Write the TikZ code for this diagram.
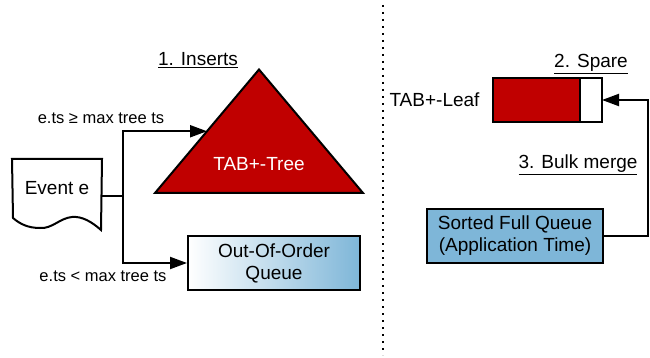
\documentclass[tikz,border=0pt]{standalone}
\usepackage{fontspec}
\setmainfont{Liberation Sans}
\usetikzlibrary{shapes.geometric, arrows.meta, positioning, calc}
\definecolor{tabred}{RGB}{192,0,0}
\definecolor{queueblue}{RGB}{126,182,216}

\begin{document}
\begin{tikzpicture}[
    x=1pt, y=-1pt,
    node distance=2pt and 10pt,
    >={Triangle[length=17pt,width=12pt]},
    font=\fontsize{19}{22}\selectfont,
    base/.style={align=center, line width=2pt, inner sep=2pt},
    docshape/.style={base, minimum width=88pt, minimum height=72pt, text height=14pt, text depth=18pt},
    tree/.style={base, isosceles triangle, isosceles triangle stretches, shape border rotate=90, draw=black, fill=tabred, text=white, minimum width=208pt, minimum height=120pt, inner sep=0pt, outer sep=0pt},
    queue/.style={base, rectangle, draw=black, minimum width=172pt, minimum height=54pt},
    leafpart/.style={base, rectangle, draw=black, minimum height=44pt, outer sep=0pt},
    steplabel/.style={font=\fontsize{19}{22}\selectfont, inner sep=1pt},
    cond/.style={font=\fontsize{16.5}{19}\selectfont},
    arrow/.style={->, line width=2pt}
  ]
    \useasboundingbox (0,0) rectangle (650,358);
    % left half: event split
    \node[docshape] (event) at (57,196) {Event e};
    \draw[line width=2pt] (event.north west) -- (event.north east) -- (101,230)
      .. controls (92,222) and (82,216) .. (72,217)
      .. controls (60,218) and (52,229) .. (40,228)
      .. controls (28,228) and (20,224) .. (13,218) -- cycle;
    \node[tree, anchor=lower side] (tree) at (259,193) {TAB+-Tree};
    \node[queue, left color=white, right color=queueblue] (ooq) at (274,263) {Out-Of-Order\\Queue};
    \node[steplabel] (insertlabel) at (198,60) {\underline{1. Inserts}};
    \node[cond] (geq) at (101,118) {e.ts ≥ max tree ts};
    \node[cond] (lt) at (103,276) {e.ts < max tree ts};
    \draw[arrow] (event.east) -- ++(21,0) |- (tree.left side);
    \draw[arrow] (event.east) -- ++(21,0) |- (ooq.west);
    % divider
    \draw[line width=2pt, dash pattern=on 2pt off 5pt] (383,5) -- (383,355);
    % right half: bulk merge
    \node[leafpart, fill=tabred, minimum width=87pt] (leaf) at (536.5,100) {};
    \node[leafpart, fill=white, minimum width=22pt, right=0pt of leaf] (spare) {};
    \node[left=10pt of leaf] (leaflabel) {TAB+-Leaf};
    \node[steplabel, above=3pt of spare] (sparelabel) {\underline{2. Spare}};
    \node[steplabel] (mergelabel) at (578,165) {\underline{3. Bulk merge}};
    \node[queue, fill=queueblue, minimum width=176pt] (sfq) at (515,236) {Sorted Full Queue\\(Application Time)};
    \draw[arrow] (sfq.east) -- ++(44,0) |- (spare.east);
  \end{tikzpicture}
\end{document}
